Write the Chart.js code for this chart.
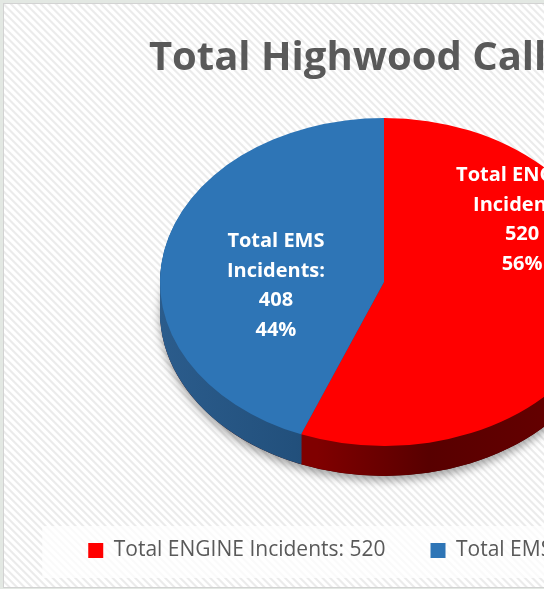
<!DOCTYPE html>
<html>
<head>
<meta charset="utf-8">
<script src="https://cdn.jsdelivr.net/npm/chart.js@4.4.1/dist/chart.umd.min.js"></script>
<style>
  html, body { margin: 0; padding: 0; }
  body { width: 544px; height: 589px; overflow: hidden; background: #e3e8e3; position: relative; }
  #frame {
    position: absolute; left: 3px; top: 3px; width: 774px; height: 583px;
    border: 1px solid #d2d2d2;
    background: repeating-linear-gradient(45deg, #ffffff 0px, #ffffff 2.2px, #ebebeb 3.2px, #ebebeb 4.3px, #ffffff 5.3px);
  }
  canvas { display: block; }
</style>
</head>
<body>
<div id="frame"><canvas id="callsChart" width="774" height="583"></canvas></div>
<script>
// chart data
const categories = ['Total ENGINE Incidents', 'Total EMS Incidents'];
const incidentCounts = [520, 408];
const chartTitle = 'Total Highwood Calls';

// styling
const sliceColors = ['#ff0000', '#2e75b6'];
const sideShades = [
  ['#800000', '#580000', '#6a0000'],
  ['#2b5c8c', '#22507c', '#1a3d60']
];
const textGrey = '#595959';

// fake 3D: squash the pie into an ellipse and stack a dark rim under it
const PIE_TILT = 164 / 224;
const PIE_DEPTH = 30;
const PIE_SHIFT = { x: -7, y: -12 };
const TITLE_SHIFT = -33.5;
// where each data label sits (turn in degrees off the slice middle, reach as share of radius)
const labelPlacement = [
  { turn: -42.5, reach: 0.724 },
  { turn: -13.7, reach: 0.483 }
];

function pieCentre(chart) {
  const a = chart.chartArea;
  return { x: (a.left + a.right) / 2 + PIE_SHIFT.x, y: (a.top + a.bottom) / 2 + PIE_SHIFT.y };
}

function tiltTo(ctx, chart, arc, drop) {
  const c = pieCentre(chart);
  ctx.translate(c.x, c.y + drop);
  ctx.scale(1, PIE_TILT);
  ctx.translate(-arc.x, -arc.y);
}

function sidePaint(ctx, arc, i) {
  const g = ctx.createLinearGradient(arc.x - arc.outerRadius, 0, arc.x + arc.outerRadius, 0);
  const shades = sideShades[i];
  if (i === 0) {
    g.addColorStop(0.35, shades[0]);
    g.addColorStop(0.6, shades[1]);
    g.addColorStop(1, shades[2]);
  } else {
    g.addColorStop(0, shades[0]);
    g.addColorStop(0.3, shades[1]);
    g.addColorStop(0.6, shades[2]);
  }
  return g;
}

const pie3d = {
  id: 'pie3d',
  afterLayout(chart) {
    // nudge the title to where it sits in the original
    if (chart.titleBlock) {
      chart.titleBlock.left += TITLE_SHIFT;
      chart.titleBlock.right += TITLE_SHIFT;
    }
  },
  beforeDraw(chart) {
    // pale panel behind the legend
    const lg = chart.legend;
    if (!lg || !lg.legendHitBoxes || !lg.legendHitBoxes.length) return;
    const ctx = chart.ctx;
    const pad = lg.options.labels.padding;
    const boxes = lg.legendHitBoxes;
    const span = boxes.reduce((s, b) => s + b.width, 0) + pad * (boxes.length - 1);
    const mid = (lg.left + lg.right) / 2;
    ctx.save();
    ctx.fillStyle = 'rgba(255,255,255,0.72)';
    ctx.fillRect(mid - span / 2 - 46, lg.top + pad - 14, span + 92, 52);
    ctx.restore();
  },
  beforeDatasetsDraw(chart) {
    const ctx = chart.ctx;
    const arcs = chart.getDatasetMeta(0).data;
    if (!arcs.length) return;
    const first = arcs[0];

    // soft shadow under the whole disc
    ctx.save();
    tiltTo(ctx, chart, first, PIE_DEPTH);
    ctx.shadowColor = 'rgba(0,0,0,0.35)';
    ctx.shadowBlur = 9;
    ctx.shadowOffsetY = 5;
    ctx.fillStyle = '#3a0000';
    ctx.beginPath();
    ctx.arc(first.x, first.y, first.outerRadius, 0, Math.PI * 2);
    ctx.fill();
    ctx.restore();

    // rim: same slices drawn again, lower and darker
    for (let d = PIE_DEPTH; d >= 1; d--) {
      arcs.forEach((arc, i) => {
        ctx.save();
        tiltTo(ctx, chart, arc, d);
        ctx.fillStyle = sidePaint(ctx, arc, i);
        ctx.beginPath();
        ctx.moveTo(arc.x, arc.y);
        ctx.arc(arc.x, arc.y, arc.outerRadius, arc.startAngle, arc.endAngle);
        ctx.closePath();
        ctx.fill();
        ctx.restore();
      });
    }

    // top face is drawn by Chart.js inside this transform
    ctx.save();
    tiltTo(ctx, chart, first, 0);
  },
  afterDatasetsDraw(chart) {
    const ctx = chart.ctx;
    ctx.restore();

    const arcs = chart.getDatasetMeta(0).data;
    const values = chart.data.datasets[0].data;
    const total = values.reduce((a, b) => a + b, 0);
    const c = pieCentre(chart);

    ctx.save();
    ctx.font = 'bold 20px "Open Sans"';
    ctx.fillStyle = '#ffffff';
    ctx.textAlign = 'center';
    ctx.textBaseline = 'middle';
    arcs.forEach((arc, i) => {
      const place = labelPlacement[i];
      const mid = (arc.startAngle + arc.endAngle) / 2 + place.turn * Math.PI / 180;
      const r = arc.outerRadius * place.reach;
      const x = c.x + Math.cos(mid) * r;
      const y = c.y + Math.sin(mid) * r * PIE_TILT;
      const words = chart.data.labels[i].split(' ');
      const lines = [
        words.slice(0, -1).join(' '),
        words[words.length - 1] + ':',
        String(values[i]),
        Math.round(values[i] / total * 100) + '%'
      ];
      lines.forEach((t, k) => ctx.fillText(t, x, y + (k - (lines.length - 1) / 2) * 29.7));
    });
    ctx.restore();
  }
};

const ctx = document.getElementById('callsChart').getContext('2d');
new Chart(ctx, {
  type: 'pie',
  data: {
    labels: categories,
    datasets: [{
      data: incidentCounts,
      backgroundColor: sliceColors,
      borderWidth: 0,
      radius: 224,
      clip: false
    }]
  },
  options: {
    responsive: false,
    animation: false,
    events: [],
    layout: { padding: { bottom: 16 } },
    plugins: {
      title: {
        display: true,
        text: chartTitle,
        color: textGrey,
        font: { family: '"Open Sans"', size: 40, weight: 'bold' },
        padding: { top: 31, bottom: 10 }
      },
      legend: {
        position: 'bottom',
        labels: {
          color: textGrey,
          font: { family: '"Open Sans"', size: 21 },
          boxWidth: 15,
          boxHeight: 15,
          padding: 45,
          generateLabels(chart) {
            const ds = chart.data.datasets[0];
            return chart.data.labels.map((name, i) => ({
              text: name + ': ' + ds.data[i],
              fillStyle: ds.backgroundColor[i],
              strokeStyle: ds.backgroundColor[i],
              lineWidth: 0,
              fontColor: textGrey,
              hidden: false,
              index: i
            }));
          }
        }
      },
      tooltip: { enabled: false }
    }
  },
  plugins: [pie3d]
});
</script>
</body>
</html>
